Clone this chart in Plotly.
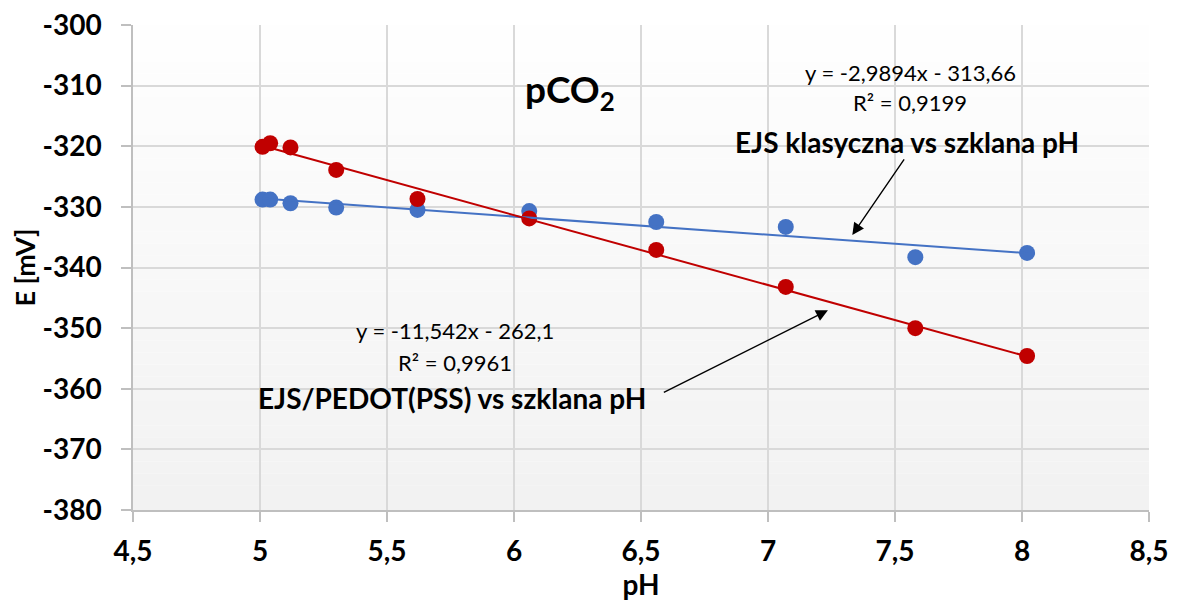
import plotly.graph_objects as go

# pH readings (shared by both electrodes)
ph = [5.01, 5.04, 5.12, 5.30, 5.62, 6.06, 6.56, 7.07, 7.58, 8.02]

# potential E [mV]
e_klasyczna = [-328.8, -328.8, -329.4, -330.1, -330.5, -330.7, -332.5, -333.3, -338.3, -337.6]
e_pedot = [-320.1, -319.5, -320.2, -323.9, -328.7, -331.9, -337.1, -343.2, -350.0, -354.6]

# trendline coefficients (slope, intercept) as printed on the chart
fit_klasyczna = (-2.9894, -313.66)
fit_pedot = (-11.542, -262.1)

# tick labels
x_ticks = [4.5, 5, 5.5, 6, 6.5, 7, 7.5, 8, 8.5]
x_labels = ["4,5", "5", "5,5", "6", "6,5", "7", "7,5", "8", "8,5"]
y_ticks = [-300, -310, -320, -330, -340, -350, -360, -370, -380]
y_labels = ["-300", "-310", "-320", "-330", "-340", "-350", "-360", "-370", "-380"]

blue = "#4472C4"
red = "#C00000"
font = "Lato"

fig = go.Figure()

# markers
fig.add_trace(go.Scatter(x=ph, y=e_klasyczna, mode="markers",
                         marker=dict(size=16, color=blue), showlegend=False))
fig.add_trace(go.Scatter(x=ph, y=e_pedot, mode="markers",
                         marker=dict(size=16, color=red), showlegend=False))

# linear trendlines
for fit, col in [(fit_klasyczna, blue), (fit_pedot, red)]:
    xs = [ph[0], ph[-1]]
    ys = [fit[0] * v + fit[1] for v in xs]
    fig.add_trace(go.Scatter(x=xs, y=ys, mode="lines",
                             line=dict(color=col, width=2), showlegend=False))

# gradient background of the plot area (white -> light grey)
n = 40
for i in range(n):
    g = int(255 - 13 * (i + 0.5) / n)
    fig.add_shape(type="rect", xref="x domain", yref="y domain",
                  x0=0, x1=1, y0=1 - (i + 1) / n, y1=1 - i / n,
                  fillcolor=f"rgb({g},{g},{g})", line_width=0, layer="below")

# texts
def label(x, y, text, size):
    fig.add_annotation(x=x, y=y, xref="x domain", yref="y domain", showarrow=False,
                       xanchor="center", yanchor="middle",
                       text=text, font=dict(family=font, size=size, color="black"))

label(0.43, 0.862, "<b>pCO<sub>2</sub></b>", 37)
label(0.765, 0.903, "y = -2,9894x - 313,66", 22)
label(0.765, 0.841, "R² = 0,9199", 22)
label(0.762, 0.759, "<b>EJS klasyczna vs szklana pH</b>", 28)
label(0.317, 0.371, "y = -11,542x - 262,1", 22)
label(0.317, 0.305, "R² = 0,9961", 22)
label(0.314, 0.231, "<b>EJS/PEDOT(PSS) vs szklana pH</b>", 28)

# arrows
for head, tail in [((0.708, 0.567), (0.760, 0.726)),
                   ((0.684, 0.412), (0.521, 0.241))]:
    fig.add_annotation(x=head[0], y=head[1], xref="x domain", yref="y domain",
                       ax=tail[0], ay=tail[1], axref="x domain", ayref="y domain",
                       showarrow=True, arrowhead=2, arrowsize=1.7, arrowwidth=1.4,
                       arrowcolor="black", text="")

axis_common = dict(showgrid=True, gridcolor="#D9D9D9", gridwidth=1.5,
                   showline=True, linecolor="#BFBFBF", linewidth=1.5,
                   ticks="outside", ticklen=10, tickcolor="#BFBFBF", tickwidth=1.5,
                   zeroline=False, automargin=False, ticklabeloverflow="allow",
                   tickfont=dict(family=font, size=28, color="black"))

fig.update_xaxes(range=[4.5, 8.5], tickvals=x_ticks,
                 ticktext=[f"<b>{t}</b>" for t in x_labels], ticklabelstandoff=6,
                 title=dict(text="<b>pH</b>", font=dict(family=font, size=28, color="black"),
                            standoff=0),
                 **axis_common)
fig.update_yaxes(range=[-380, -300], tickvals=y_ticks,
                 ticktext=[f"<b>{t}</b>" for t in y_labels], ticklabelstandoff=14,
                 title=dict(text="<b>E [mV]</b>", font=dict(family=font, size=27, color="black"),
                            standoff=8),
                 **axis_common)

# the page body has an 8px margin, so the figure is 8px smaller than the window
fig.update_layout(width=1172, height=596,
                  margin=dict(l=125, r=31, t=17, b=94),
                  paper_bgcolor="white", plot_bgcolor="white",
                  font=dict(family=font))

fig.write_html("out.html")
